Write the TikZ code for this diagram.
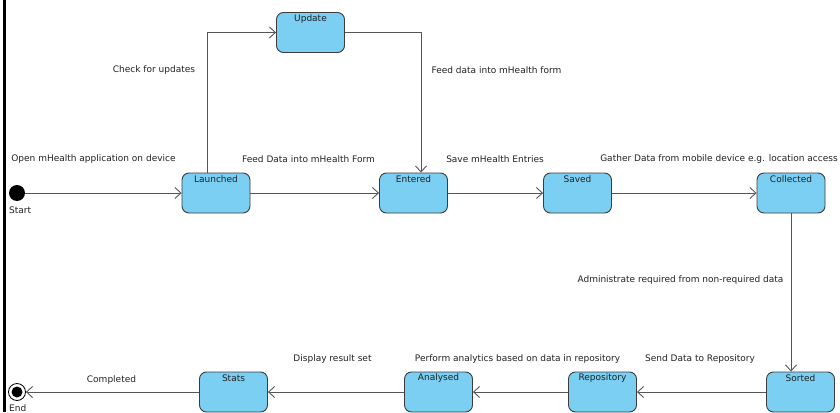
\documentclass[tikz,border=0pt]{standalone}
\usepackage{fontspec}
\setmainfont{DejaVu Sans}
\usetikzlibrary{arrows.meta}
\definecolor{boxfill}{HTML}{7ACFF3}
\definecolor{boxline}{HTML}{3C3C3C}
\definecolor{wire}{HTML}{555555}
\definecolor{txt}{HTML}{222222}
\begin{document}
\begin{tikzpicture}[x=1pt,y=-1pt,
  state/.style={draw=boxline, line width=0.9pt, fill=boxfill, rounded corners=7pt,
    minimum width=68pt, minimum height=40pt, inner sep=0pt},
  statelabel/.style={font=\fontsize{9}{10}\selectfont, text=txt, inner sep=0pt},
  lbl/.style={font=\fontsize{9}{10}\selectfont, text=txt, inner sep=0pt},
  flow/.style={draw=wire, line width=0.9pt, -{Straight Barb[length=6pt,width=11pt,line width=0.9pt]}}
]
\useasboundingbox (0,0) rectangle (840,412);
\fill[white] (0,0) rectangle (840,412);
\fill[black] (3,0) rectangle (6,412);

% states
\node[state] (launched) at (216,193) {};
\node[state] (update) at (310.5,32.5) {};
\node[state] (entered) at (413.5,193) {};
\node[state] (saved) at (577.5,193) {};
\node[state] (collected) at (791,193) {};
\node[state] (sorted) at (800.5,392) {};
\node[state] (repository) at (602.5,392) {};
\node[state] (analysed) at (438.5,392) {};
\node[state] (stats) at (233.5,392) {};

\foreach \n/\t in {launched/Launched, update/Update, entered/Entered, saved/Saved,
  collected/Collected, sorted/Sorted, repository/Repository, analysed/Analysed, stats/Stats}
  \node[statelabel] at ([yshift=-6.5pt]\n.north) {\t};

% pseudo states
\node[circle, fill=black, minimum size=16pt, inner sep=0pt] (start) at (17,193) {};
\node[circle, draw=black, line width=0.8pt, fill=white, minimum size=17pt, inner sep=0pt] (end) at (17,392) {};
\node[circle, fill=black, minimum size=11pt, inner sep=0pt] (endin) at (17,392) {};
\node[lbl, anchor=west] (startlbl) at (9,210) {Start};
\node[lbl, anchor=west] (endlbl) at (9,408) {End};

% connectors
\draw[flow] (start) -- (launched.west);
\draw[flow] ([xshift=-9pt]launched.north) |- (update.west);
\draw[flow] (update.east) -| ([xshift=7.5pt]entered.north);
\draw[flow] (launched.east) -- (entered.west);
\draw[flow] (entered.east) -- (saved.west);
\draw[flow] (saved.east) -- (collected.west);
\draw[flow] (collected.south) -- (collected.south |- sorted.north);
\draw[flow] (sorted.west) -- (repository.east);
\draw[flow] (repository.west) -- (analysed.east);
\draw[flow] (analysed.west) -- (stats.east);
\draw[flow] (stats.west) -- (end.east);

% labels
\node[lbl] (l1) at (93.5,159) {Open mHealth application on device};
\node[lbl] (l2) at (308.5,159) {Feed Data into mHealth Form};
\node[lbl] (l3) at (495,159) {Save mHealth Entries};
\node[lbl] (l4) at (719,159) {Gather Data from mobile device e.g. location access};
\node[lbl] (l5) at (154,70) {Check for updates};
\node[lbl] (l6) at (496.5,70) {Feed data into mHealth form};
\node[lbl] (l7) at (680.5,280) {Administrate required from non-required data};
\node[lbl] (l8) at (517.5,359) {Perform analytics based on data in repository};
\node[lbl] (l9) at (700,359) {Send Data to Repository};
\node[lbl] (l10) at (332.5,359) {Display result set};
\node[lbl] (l11) at (111.5,380) {Completed};
\end{tikzpicture}
\end{document}
